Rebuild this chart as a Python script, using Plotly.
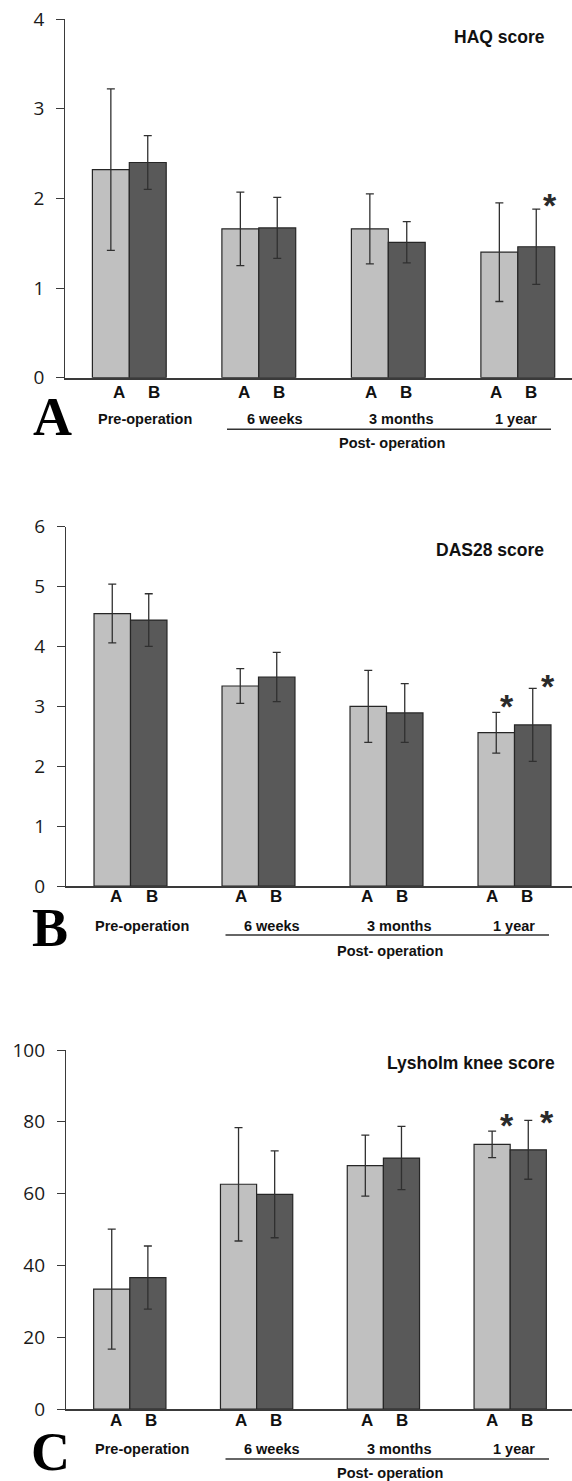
import plotly.graph_objects as go

# ---------------- data ----------------
groups = ["Pre-operation", "6 weeks", "3 months", "1 year"]
series = ["A", "B"]
super_label = "Post- operation"

haq_a = [2.32, 1.66, 1.66, 1.40]
haq_a_err = [0.90, 0.41, 0.39, 0.55]
haq_b = [2.40, 1.67, 1.51, 1.46]
haq_b_err = [0.30, 0.34, 0.23, 0.42]

das_a = [4.55, 3.34, 3.00, 2.56]
das_a_err = [0.49, 0.29, 0.60, 0.34]
das_b = [4.44, 3.49, 2.89, 2.69]
das_b_err = [0.44, 0.41, 0.49, 0.61]

lys_a = [33.4, 62.6, 67.8, 73.7]
lys_a_err = [16.7, 15.8, 8.5, 3.7]
lys_b = [36.6, 59.8, 69.9, 72.2]
lys_b_err = [8.8, 12.1, 8.8, 8.2]

titles = ["HAQ score", "DAS28 score", "Lysholm knee score"]
panel_letters = ["A", "B", "C"]
y_ticks = [[0, 1, 2, 3, 4], [0, 1, 2, 3, 4, 5, 6], [0, 20, 40, 60, 80, 100]]
y_max = [4, 6, 100]
# significance marks: (group index, series index)
stars = [[(3, 1)], [(3, 0), (3, 1)], [(3, 0), (3, 1)]]

# ---------------- layout helpers (pixel geometry) ----------------
W, H = 572, 1481
def px(p):
    return p / W
def py(p):
    return 1 - p / H

COL_A = "#c0c0c0"
COL_B = "#595959"
EDGE = "#262626"
AXC = "#3a3a3a"

panels = [
    dict(a=haq_a, ae=haq_a_err, b=haq_b, be=haq_b_err,
         top=19.0, bottom=377.7, axis_x=65.3, c0=129.3, step=129.5,
         ab_y=392.5, ab_x=[(119, 154), (244, 279), (371, 406), (496, 531)],
         grp_y=418.5, grp_x=[144.5, 274.5, 400.7, 515.5],
         line_y=429.3, line_x=(227, 551), post_y=443.3, post_x=392,
         letter=(52.5, 417), title=(546.7, 37.3),
         star_shift=[(14, 10)]),
    dict(a=das_a, ae=das_a_err, b=das_b, be=das_b_err,
         top=526.7, bottom=886.0, axis_x=66.0, c0=130.5, step=128.0,
         ab_y=897, ab_x=[(116.4, 151.6), (240.5, 276), (367, 402), (492.4, 527)],
         grp_y=925.7, grp_x=[141.5, 271.8, 398.5, 514],
         line_y=935, line_x=(225.5, 549), post_y=950.7, post_x=390,
         letter=(50, 928), title=(545.5, 550),
         star_shift=[(11, 12), (15.5, 8)]),
    dict(a=lys_a, ae=lys_a_err, b=lys_b, be=lys_b_err,
         top=1050.0, bottom=1409.0, axis_x=66.0, c0=129.8, step=126.8,
         ab_y=1420.7, ab_x=[(116.4, 151), (240.5, 275.8), (367, 401.8), (492.4, 527)],
         grp_y=1449.3, grp_x=[141.5, 271.8, 398.5, 514],
         line_y=1459, line_x=(225.5, 549), post_y=1473.3, post_x=390,
         letter=(50, 1451.7), title=(556.7, 1062.7),
         star_shift=[(15, 12), (19, 4)]),
]

BARGAP = 0.43
half_w = (1 - BARGAP) / 4.0  # half width of one bar, in category units

fig = go.Figure()
annotations = []
shapes = []
x_idx = list(range(len(groups)))

for k, p in enumerate(panels):
    xa = "x" if k == 0 else f"x{k+1}"
    ya = "y" if k == 0 else f"y{k+1}"
    for s, (vals, errs, col) in enumerate([(p["a"], p["ae"], COL_A), (p["b"], p["be"], COL_B)]):
        fig.add_trace(go.Bar(
            x=x_idx, y=vals, name=series[s], xaxis=xa, yaxis=ya,
            marker=dict(color=col, line=dict(color=EDGE, width=1.2)),
            error_y=dict(type="data", array=errs, visible=True,
                         color="#303030", thickness=1.3, width=4),
            showlegend=False, offsetgroup=str(s),
        ))
    xr0 = (p["axis_x"] - p["c0"]) / p["step"]
    xr1 = (W - p["c0"]) / p["step"]
    xkey = "xaxis" if k == 0 else f"xaxis{k+1}"
    ykey = "yaxis" if k == 0 else f"yaxis{k+1}"
    fig.layout[xkey] = dict(
        domain=[px(p["axis_x"]), 1], range=[xr0, xr1], anchor=ya,
        showline=True, linecolor=AXC, linewidth=1.5, showgrid=False,
        zeroline=False, ticks="", showticklabels=False, fixedrange=True,
    )
    fig.layout[ykey] = dict(
        domain=[py(p["bottom"]), py(p["top"])], range=[0, y_max[k]], anchor=xa,
        tickvals=y_ticks[k], ticktext=[str(t) for t in y_ticks[k]],
        showline=True, linecolor=AXC, linewidth=1.3, showgrid=False,
        zeroline=False, ticks="outside", ticklen=8, tickcolor=AXC, tickwidth=1.3,
        tickfont=dict(family="Open Sans", size=19, color="#1a1a1a"),
        ticklabelstandoff=8, automargin=False, fixedrange=True,
    )
    # series labels under bars
    for g in range(len(groups)):
        for s in range(2):
            annotations.append(dict(
                text=f"<b>{series[s]}</b>", x=px(p["ab_x"][g][s]), y=py(p["ab_y"]),
                xref="paper", yref="paper", showarrow=False,
                xanchor="center", yanchor="middle",
                font=dict(family="Liberation Sans", size=17, color="#111111")))
        annotations.append(dict(
            text=f"<b>{groups[g]}</b>", x=px(p["grp_x"][g]), y=py(p["grp_y"]),
            xref="paper", yref="paper", showarrow=False,
            xanchor="center", yanchor="middle",
            font=dict(family="Liberation Sans", size=14.5, color="#111111")))
    annotations.append(dict(
        text=f"<b>{super_label}</b>", x=px(p["post_x"]), y=py(p["post_y"]),
        xref="paper", yref="paper", showarrow=False,
        xanchor="center", yanchor="middle",
        font=dict(family="Liberation Sans", size=14.5, color="#111111")))
    shapes.append(dict(type="line", xref="paper", yref="paper",
                       x0=px(p["line_x"][0]), x1=px(p["line_x"][1]),
                       y0=py(p["line_y"]), y1=py(p["line_y"]),
                       line=dict(color="#333333", width=1.6)))
    # panel letter
    annotations.append(dict(
        text=f"<b>{panel_letters[k]}</b>", x=px(p["letter"][0]), y=py(p["letter"][1]),
        xref="paper", yref="paper", showarrow=False,
        xanchor="center", yanchor="middle",
        font=dict(family="Liberation Serif", size=54, color="#000000")))
    # title
    annotations.append(dict(
        text=f"<b>{titles[k]}</b>", x=px(p["title"][0]), y=py(p["title"][1]),
        xref="paper", yref="paper", showarrow=False,
        xanchor="right", yanchor="middle",
        font=dict(family="Liberation Sans", size=17.5, color="#111111")))
    # significance asterisks
    for (g, s), (dx, dy) in zip(stars[k], p["star_shift"]):
        vals = p["a"] if s == 0 else p["b"]
        errs = p["ae"] if s == 0 else p["be"]
        xc = g + (-half_w if s == 0 else half_w)
        annotations.append(dict(
            text="<b>*</b>", x=xc, y=vals[g] + errs[g], xref=xa, yref=ya,
            showarrow=False, xanchor="center", yanchor="middle",
            xshift=dx, yshift=dy - 6,
            font=dict(family="Liberation Sans", size=34, color="#2a2a2a")))

fig.update_layout(
    width=W, height=H,
    margin=dict(l=0, r=0, t=0, b=0, autoexpand=False),
    paper_bgcolor="white", plot_bgcolor="white",
    barmode="group", bargap=BARGAP, bargroupgap=0,
    annotations=annotations, shapes=shapes,
    showlegend=False,
)

fig.write_html("out.html", config={"displayModeBar": False},
               post_script="document.body.style.margin='0';")
